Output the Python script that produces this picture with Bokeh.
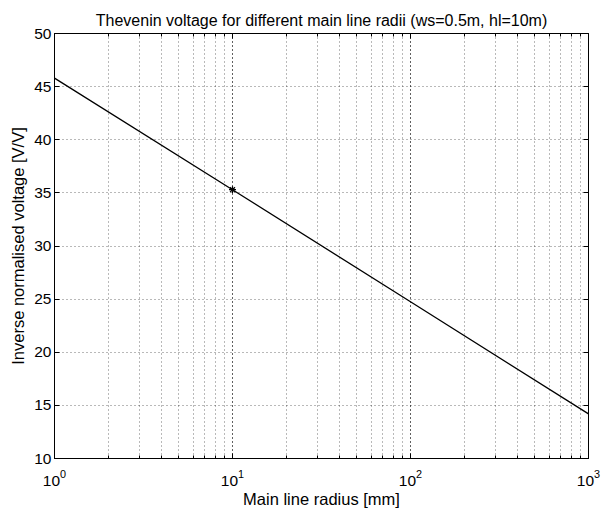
from bokeh.plotting import figure
from bokeh.models import LogAxis, LinearAxis, FixedTicker, LogTicker, Range1d, CustomJSTickFormatter
from bokeh.embed import file_html
from bokeh.resources import INLINE

radius_mm = [1, 10, 100, 1000]
inverse_voltage = [45.8, 35.3, 24.75, 14.2]
marker_radius = [10]
marker_voltage = [35.3]
y_ticks = [10, 15, 20, 25, 30, 35, 40, 45, 50]

FONT = "Liberation Sans"

p = figure(width=611, height=512, x_axis_type="log",
           x_range=Range1d(1, 1000), y_range=Range1d(10, 50),
           output_backend="svg", toolbar_location=None,
           min_border_left=54, min_border_right=23, min_border_top=33, min_border_bottom=54)
p.title.text = "Thevenin voltage for different main line radii (ws=0.5m, hl=10m)"
p.title.align = "center"
p.title.text_font = FONT
p.title.text_font_style = "normal"
p.title.text_font_size = "16px"
p.title.text_color = "black"
p.title.standoff = 9

p.outline_line_color = "black"
p.outline_line_width = 1

p.line(radius_mm, inverse_voltage, line_color="black", line_width=1.3)
p.scatter(marker_radius, marker_voltage, marker="asterisk", size=7, line_color="black", line_width=1.2)

p.yaxis.ticker = FixedTicker(ticks=y_ticks)
p.xaxis.ticker = LogTicker(num_minor_ticks=10)

for ax in [p.xaxis[0], p.yaxis[0]]:
    ax.axis_line_color = None
    ax.major_tick_in = 5
    ax.major_tick_out = 0
    ax.minor_tick_in = 3
    ax.minor_tick_out = 0
    ax.major_label_text_font = FONT
    ax.major_label_text_font_size = "15.5px"
    ax.major_label_text_color = "black"
    ax.axis_label_text_font = FONT
    ax.axis_label_text_font_size = "16.5px"
    ax.axis_label_text_font_style = "normal"
    ax.axis_label_text_color = "black"
    ax.major_tick_line_color = "black"
    ax.minor_tick_line_color = "black"
p.yaxis.minor_tick_line_color = None
p.yaxis.major_label_standoff = 3
p.xaxis.major_label_standoff = 11
p.xaxis.axis_label = "Main line radius [mm]"
p.yaxis.axis_label = "Inverse normalised voltage [V/V]"
p.xaxis.axis_label_standoff = 1
p.yaxis.axis_label_standoff = 4

blank = CustomJSTickFormatter(code="return '';")
top = LogAxis(ticker=LogTicker(num_minor_ticks=10), axis_line_color=None, formatter=blank,
              major_tick_in=5, major_tick_out=0, minor_tick_in=3, minor_tick_out=0,
              major_label_standoff=0)
right = LinearAxis(ticker=FixedTicker(ticks=y_ticks), axis_line_color=None, formatter=CustomJSTickFormatter(code="return '';"),
                   major_tick_in=5, major_tick_out=0, minor_tick_line_color=None,
                   major_label_standoff=0)
p.add_layout(top, "above")
p.add_layout(right, "right")

p.xgrid.grid_line_color = "black"
p.xgrid.grid_line_alpha = 0.55
p.xgrid.grid_line_dash = "1 3"
p.xgrid.minor_grid_line_color = "black"
p.xgrid.minor_grid_line_alpha = 0.55
p.xgrid.minor_grid_line_dash = "1 3"
p.ygrid.grid_line_color = "black"
p.ygrid.grid_line_alpha = 0.55
p.ygrid.grid_line_dash = "1 3"
p.ygrid.ticker = FixedTicker(ticks=y_ticks)

open("out.html", "w").write(file_html(p, INLINE))
